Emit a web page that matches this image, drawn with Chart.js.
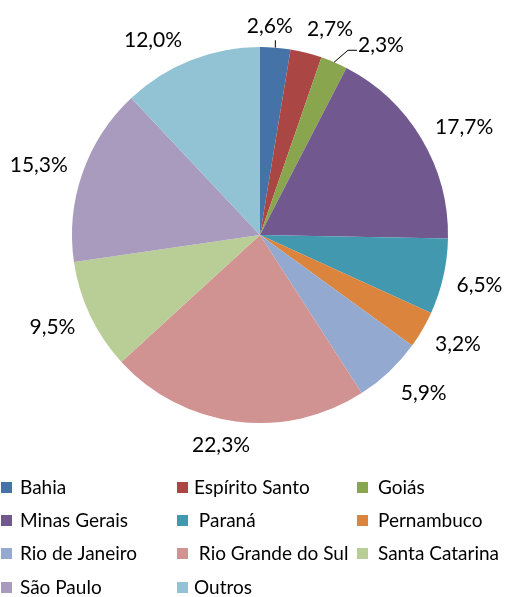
<!DOCTYPE html>
<html>
<head>
<meta charset="utf-8">
<script src="https://cdn.jsdelivr.net/npm/chart.js@4.4.1/dist/chart.umd.min.js"></script>
<style>
  html, body { margin: 0; padding: 0; background: #fff; }
</style>
</head>
<body>
<canvas id="pie" width="505" height="597"></canvas>
<script>
const states = ['Bahia', 'Espírito Santo', 'Goiás', 'Minas Gerais', ' Paraná', 'Pernambuco',
  'Rio de Janeiro', ' Rio Grande do Sul', 'Santa Catarina', 'São Paulo', 'Outros']
const shares = [2.6, 2.7, 2.3, 17.7, 6.5, 3.2, 5.9, 22.3, 9.5, 15.3, 12.0]
const colors = ['#4572A7', '#AA4643', '#89A54E', '#71588F', '#4198AF', '#DB843D',
  '#93A9CF', '#D19392', '#B9CD96', '#A99BBD', '#92C3D4']

// where each percentage label sits: [distance from centre, angle shift in degrees]
const labelPlace = [[209, -2], [217, 4.6], [225, 9.3], [231, 2.9], [225, 0], [226, -1.4],
  [228, -2.5], [214, 3.1], [227, 1.5], [232, -1.7], [222, -7.2]]
const leaders = ['v', null, 'h', null, null, null, null, null, null, null, null]

const fmt = (v) => v.toFixed(1).replace('.', ',') + '%'

const labelsPlugin = {
  id: 'pieLabels',
  afterDraw(chart) {
    const ctx = chart.ctx
    const arcs = chart.getDatasetMeta(0).data
    ctx.save()
    ctx.font = '21px Lato'
    ctx.fillStyle = '#000'
    ctx.textAlign = 'center'
    ctx.textBaseline = 'middle'
    arcs.forEach((arc, i) => {
      const mid = (arc.startAngle + arc.endAngle) / 2
      const [dist, shift] = labelPlace[i]
      const a = mid + shift * Math.PI / 180
      const lx = arc.x + Math.cos(a) * dist
      const ly = arc.y + Math.sin(a) * dist
      const txt = fmt(shares[i])
      ctx.fillText(txt, lx, ly)
      const ax = arc.x + Math.cos(mid) * arc.outerRadius
      const ay = arc.y + Math.sin(mid) * arc.outerRadius
      const w = ctx.measureText(txt).width
      ctx.strokeStyle = '#000'
      ctx.lineWidth = 1
      if (leaders[i] === 'v') {
        ctx.beginPath()
        ctx.moveTo(ax, ay)
        ctx.lineTo(ax, ly + 14)
        ctx.stroke()
      } else if (leaders[i] === 'h') {
        const left = lx - w / 2
        ctx.beginPath()
        ctx.moveTo(ax, ay)
        ctx.lineTo(left - 10, ly + 5)
        ctx.lineTo(left - 1, ly + 5)
        ctx.stroke()
      }
    })

    // legend, three columns
    const colBox = [1, 177, 357]
    const colText = [20, 194, 378]
    const rowY = [487, 520, 553, 587]
    ctx.font = '19px Lato'
    ctx.textAlign = 'left'
    states.forEach((name, i) => {
      const c = i % 3
      const r = Math.floor(i / 3)
      ctx.fillStyle = colors[i]
      ctx.fillRect(colBox[c], rowY[r] - 5, 11, 11)
      ctx.fillStyle = '#000'
      ctx.fillText(name, colText[c], rowY[r] + 1)
    })
    ctx.restore()
  }
}

new Chart(document.getElementById('pie'), {
  type: 'pie',
  data: {
    labels: states,
    datasets: [{
      data: shares,
      backgroundColor: colors,
      borderWidth: 0
    }]
  },
  options: {
    responsive: false,
    animation: false,
    layout: { padding: { left: 72, right: 57, top: 47, bottom: 174 } },
    plugins: {
      legend: { display: false },
      tooltip: { enabled: false }
    }
  },
  plugins: [labelsPlugin]
})
</script>
</body>
</html>
